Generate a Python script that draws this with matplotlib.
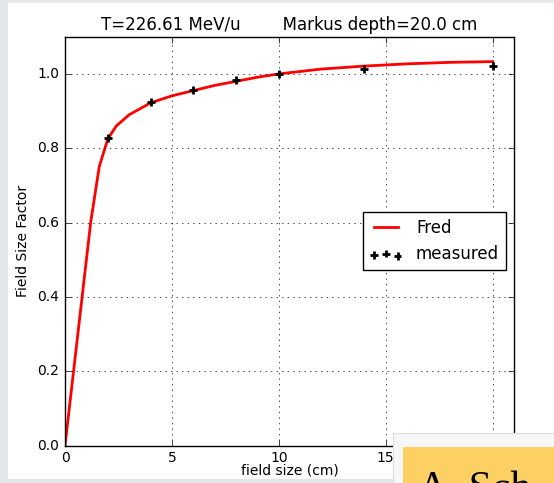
import matplotlib
matplotlib.use("Agg")
import matplotlib.pyplot as plt
from matplotlib.patches import Rectangle

plt.style.use('classic')

# Data
fred_x = [0, 0.4, 0.8, 1.2, 1.6, 2.0, 2.4, 3, 4, 5, 6, 7, 8, 9, 10, 12, 14, 16, 18, 20]
fred_y = [0.0, 0.20, 0.40, 0.60, 0.75, 0.825, 0.86, 0.89, 0.922, 0.941, 0.955, 0.969, 0.980, 0.991, 1.0,
          1.013, 1.021, 1.027, 1.031, 1.033]
meas_x = [2, 4, 6, 8, 10, 14, 20]
meas_y = [0.828, 0.924, 0.957, 0.983, 1.0, 1.013, 1.020]
xticks = [0, 5, 10, 15, 20]
yticks = [0.0, 0.2, 0.4, 0.6, 0.8, 1.0]

W, H = 554, 483
fig = plt.figure(figsize=(W / 100, H / 100), dpi=100, facecolor='white')

def px_rect(x0, y0, x1, y1, **kw):
    r = Rectangle((x0 / W, 1 - y1 / H), (x1 - x0) / W, (y1 - y0) / H,
                  transform=fig.transFigure, **kw)
    fig.patches.append(r)

# slide background pieces
px_rect(0, 0, W, 2.5, facecolor='#e9ecef', edgecolor='none', zorder=0)
px_rect(0, 0, 8, H, facecolor='#e3e6e9', edgecolor='none', zorder=0)
px_rect(0, 479, W, H, facecolor='#e3e6e9', edgecolor='none', zorder=0)

ax = fig.add_axes([65 / W, 1 - 445.7 / H, 449 / W, 409 / H])
ax.plot(fred_x, fred_y, color='red', lw=2, label='Fred')
ax.scatter(meas_x, meas_y, marker='+', c='k', s=32, linewidths=2, label='measured', zorder=3)
ax.set_xlim(0, 21)
ax.set_ylim(0, 1.1)
ax.set_xticks(xticks)
ax.set_yticks(yticks)
ax.set_xticklabels(['0', '5', '10', '15', ''])
ax.grid(True)
ax.set_xlabel('field size (cm)', fontsize=10, labelpad=-1)
ax.set_ylabel('Field Size Factor', fontsize=10)
ax.tick_params(labelsize=10)
ax.set_title('T=226.61 MeV/u        Markus depth=20.0 cm', fontsize=12)
ax.legend(loc='center right', fontsize=12, scatterpoints=3, handlelength=2.0)

# overlapping slide box
px_rect(393, 433, W + 5, H + 5, facecolor='#f7f7f7', edgecolor='#dddddd', lw=0.8, zorder=5)
px_rect(403, 447, W + 5, H + 5, facecolor='#fcd062', edgecolor='none', zorder=6)
fig.text(418 / W, 1 - 500 / H, 'A. Sch', fontsize=30, family='Liberation Serif',
         color='black', zorder=7, va='baseline', ha='left')

fig.savefig('out.png', dpi=100, facecolor='white')
